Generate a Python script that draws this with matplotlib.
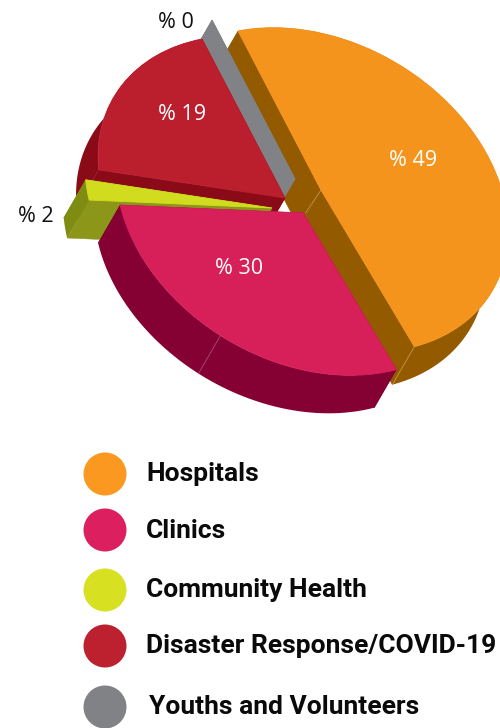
import numpy as np
import matplotlib
matplotlib.use("Agg")
import matplotlib.pyplot as plt
from matplotlib.patches import Circle, Polygon
from matplotlib.transforms import Affine2D

# Data
categories = ["Hospitals", "Clinics", "Community Health", "Disaster Response/COVID-19", "Youths and Volunteers"]
values = [49, 30, 2, 19, 0]
value_labels = ["% 49", "% 30", "% 2", "% 19", "% 0"]

# Colours
top_colors = ["#f5941d", "#d71f5a", "#d1dc1f", "#bb1f2e", "#808285"]
wall_colors = ["#945a00", "#850033", "#8c9618", "#8a0a18", "#808285"]
outer_colors = ["#945a00", "#850033", "#7f8c12", "#8a0a18", "#808285"]
legend_colors = ["#fa981f", "#dc1f5e", "#d7e021", "#bd202e", "#818286"]

# Layout in pixels, the pie is a flattened circle pushed along a depth vector
axis_up = np.array([-83.0, -159.0])
axis_side = np.array([167.5, -32.6])
depth = np.array([-22.0, 38.0])
apexes = [(321, 190), (303, 213), (272, 208), (285, 198), (295, 179)]
draw_order = [1, 5, 4, 3, 2]
label_pos = [(413, 161), (239, 269), (36, 217), (182, 115), (176, 22)]
label_color = ["white", "white", "#111111", "white", "#111111"]
legend_y = [475, 531, 591, 647, 708]
legend_text_x = [146, 146, 146, 146, 149]

plt.rcParams["font.family"] = ["Open Sans", "DejaVu Sans"]

fig = plt.figure(figsize=(5, 7.28), dpi=100)
ax = fig.add_axes([0, 0, 1, 1])

wedges, _ = ax.pie(values, colors=top_colors, startangle=90, counterclock=False,
                   wedgeprops=dict(linewidth=0))

ax.set_xlim(0, 500)
ax.set_ylim(728, 0)
ax.set_aspect("equal")
ax.axis("off")


def point(apex, alpha):
    a = np.radians(alpha)
    return np.array(apex) + np.cos(a) * axis_up + np.sin(a) * axis_side


ends = np.cumsum(values) * 3.6
starts = ends - np.array(values) * 3.6

for i, wedge in enumerate(wedges):
    z = draw_order[i]
    apex = np.array(apexes[i], dtype=float)
    wedge.set_transform(Affine2D.from_values(axis_side[0], axis_side[1], axis_up[0], axis_up[1],
                                             apex[0], apex[1]) + ax.transData)
    wedge.set_zorder(z + 0.5)
    wedge.set_edgecolor(top_colors[i])
    wedge.set_linewidth(0.6)

    # side faces along the two straight edges
    for alpha in (starts[i], ends[i]):
        p = point(apex, alpha)
        ax.add_patch(Polygon([apex, p, p + depth, apex + depth], closed=True,
                             fc=wall_colors[i], ec=wall_colors[i], lw=0.3, zorder=z))

    # outer rim
    if values[i] > 0:
        arc = np.array([point(apex, t) for t in np.linspace(starts[i], ends[i], 120)])
        rim = np.vstack([arc, (arc + depth)[::-1]])
        ax.add_patch(Polygon(rim, closed=True, fc=outer_colors[i], ec="none", lw=0, zorder=z + 0.1))

    # thin light seam where the edge meets the rim
    if i == 0:
        p = point(apex, ends[i])
        ax.plot([p[0], p[0] + depth[0]], [p[1], p[1] + depth[1]], color="#c89a50", lw=0.5, zorder=z + 0.6)
        ax.plot([apex[0], apex[0] + depth[0] * 0.7], [apex[1], apex[1] + depth[1] * 0.6],
                color="#c89a50", lw=0.5, zorder=z + 0.2)

# seam on the Clinics rim
seam = point(apexes[1], starts[1] + 0.52 * (ends[1] - starts[1]))
ax.plot([seam[0], seam[0] + depth[0]], [seam[1], seam[1] + depth[1]], color="#b05a80", lw=0.5, zorder=5.6)

for i, label in enumerate(value_labels):
    ax.text(label_pos[i][0], label_pos[i][1], label, color=label_color[i], fontsize=15.5,
            ha="center", va="center", zorder=10)

for i, name in enumerate(categories):
    ax.add_patch(Circle((105, legend_y[i] - 1), 21.5, fc=legend_colors[i], ec="none", zorder=6))
    ax.text(legend_text_x[i], legend_y[i] - 0.5, name, family=["Roboto", "DejaVu Sans"], fontweight="bold",
            fontsize=19, color="#0a0a0a", ha="left", va="center", zorder=10)

fig.savefig("out.png", dpi=100)
